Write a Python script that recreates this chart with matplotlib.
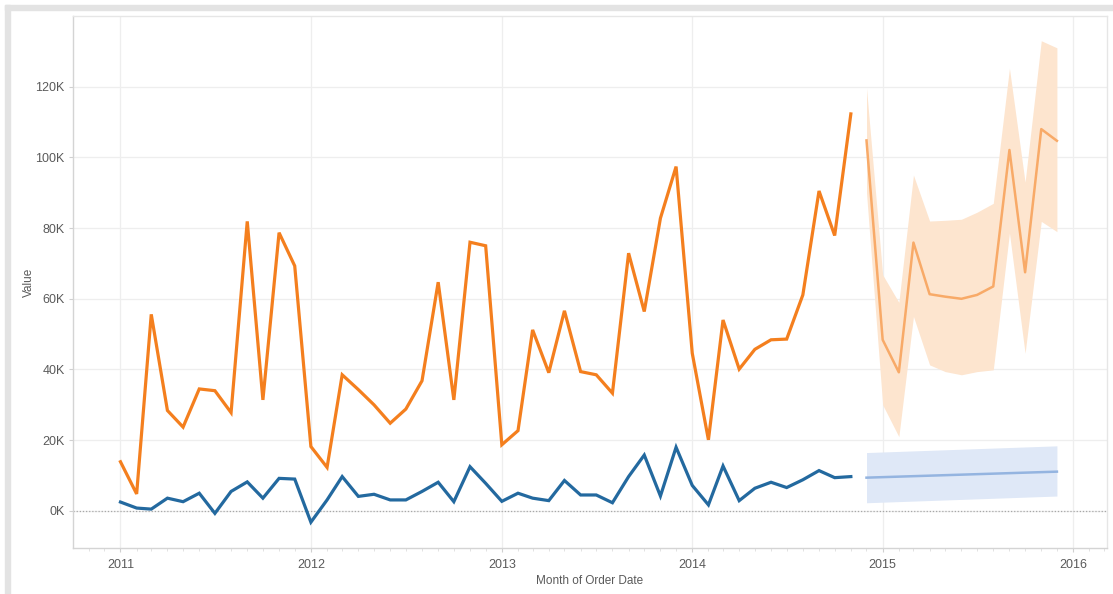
import matplotlib
matplotlib.use("Agg")
import matplotlib.pyplot as plt
import matplotlib.dates as mdates
from matplotlib.patches import Rectangle
from matplotlib.ticker import FuncFormatter
import pandas as pd

plt.rcParams['font.family'] = ['Liberation Sans', 'DejaVu Sans']

# ---- data (values in thousands) ----
actual_months = pd.date_range("2011-01-01", "2014-11-01", freq="MS")
sales = [13.9, 4.8, 55.6, 28.4, 23.7, 34.5, 34.0, 27.8, 81.9, 31.4, 78.7, 69.3,
         18.2, 12.3, 38.5, 34.3, 30.0, 24.8, 28.8, 36.8, 64.7, 31.4, 76.0, 75.0,
         18.7, 22.7, 51.2, 39.1, 56.6, 39.4, 38.5, 33.3, 72.9, 56.4, 82.8, 97.4,
         44.6, 20.1, 54.0, 40.1, 45.7, 48.4, 48.6, 61.1, 90.5, 77.9, 112.3]
profit = [2.5, 0.8, 0.5, 3.6, 2.6, 5.0, -0.7, 5.5, 8.2, 3.6, 9.2, 9.0,
          -3.2, 3.1, 9.7, 4.1, 4.7, 3.1, 3.1, 5.5, 8.1, 2.6, 12.5, 7.8,
          2.7, 5.0, 3.6, 2.9, 8.6, 4.5, 4.5, 2.3, 9.7, 15.8, 4.2, 18.0,
          7.2, 1.7, 12.7, 2.9, 6.4, 8.1, 6.6, 8.8, 11.4, 9.4, 9.7]

forecast_months = pd.date_range("2014-12-01", "2015-12-01", freq="MS")
sales_fc = [104.8, 48.4, 39.2, 75.9, 61.3, 60.6, 60.0, 61.1, 63.5, 102.1, 67.5, 108.0, 104.7]
sales_fc_hi = [119.6, 66.8, 59.0, 95.0, 82.0, 82.2, 82.5, 84.5, 87.0, 125.2, 93.0, 133.0, 131.0]
sales_fc_lo = [90.0, 30.0, 21.0, 55.0, 41.3, 39.4, 38.5, 39.4, 39.9, 78.6, 44.6, 81.9, 79.0]

profit_fc_months = pd.to_datetime(["2014-12-01", "2015-12-01"])
profit_fc = [9.4, 11.1]
profit_fc_hi = [16.5, 18.4]
profit_fc_lo = [2.3, 4.2]

year_ticks = pd.to_datetime(["2011-01-01", "2012-01-01", "2013-01-01",
                             "2014-01-01", "2015-01-01", "2016-01-01"])
y_ticks = [0, 20, 40, 60, 80, 100, 120]

# ---- figure ----
fig = plt.figure(figsize=(11.13, 5.94), dpi=100)
W, H = 1113, 594
# outer frame strips (screenshot border)
fig.patches.append(Rectangle((5 / W, 0), 5 / W, 1 - 5 / H, transform=fig.transFigure,
                             color='#e3e3e3', zorder=0))
fig.patches.append(Rectangle((5 / W, 1 - 10 / H), 1 - 5 / W, 5 / H, transform=fig.transFigure,
                             color='#e3e3e3', zorder=0))

ax = fig.add_axes([73 / W, 1 - 548 / H, (1107 - 73) / W, (548 - 16) / H])

orange = '#f47f1e'
blue = '#23699f'

ax.fill_between(forecast_months, sales_fc_lo, sales_fc_hi, color='#fde5cf', lw=0, zorder=1)
ax.fill_between(profit_fc_months, profit_fc_lo, profit_fc_hi, color='#dfe8f7', lw=0, zorder=1)
ax.plot(forecast_months, sales_fc, color='#f8aa68', lw=1.8, zorder=3)
ax.plot(profit_fc_months, profit_fc, color='#94b4e0', lw=1.8, zorder=3)
ax.plot(actual_months, sales, color=orange, lw=2.3, zorder=4, solid_joinstyle='miter')
ax.plot(actual_months, profit, color=blue, lw=2.3, zorder=4, solid_joinstyle='miter')

ax.axhline(0, color='#a8a8a8', lw=0.9, ls=(0, (1, 1.5)), zorder=2)

ax.set_xlim(pd.Timestamp("2010-10-02"), pd.Timestamp("2016-03-06"))
ax.set_ylim(-10.5, 140)

ax.set_xticks(year_ticks)
ax.xaxis.set_major_formatter(mdates.DateFormatter('%Y'))
ax.xaxis.set_minor_locator(mdates.MonthLocator())
ax.set_yticks(y_ticks)
ax.yaxis.set_major_formatter(FuncFormatter(lambda v, p: f"{int(v)}K"))

ax.grid(True, which='major', color='#eeeeee', lw=0.9, zorder=0)
ax.set_axisbelow(True)

for s in ['top', 'right']:
    ax.spines[s].set_color('#e6e6e6')
for s in ['left', 'bottom']:
    ax.spines[s].set_color('#d4d4d4')
for s in ax.spines.values():
    s.set_linewidth(1.0)

ax.tick_params(axis='both', which='major', colors='#d0d0d0', labelcolor='#5a5a5a',
               labelsize=9, length=3, width=0.8)
ax.tick_params(axis='x', which='minor', colors='#dddddd', length=2, width=0.6)
ax.tick_params(axis='x', which='major', pad=5)
ax.tick_params(axis='y', which='major', pad=3)

ax.set_xlabel('Month of Order Date', fontsize=8.5, color='#5a5a5a', labelpad=3)
ax.set_ylabel('Value', fontsize=8.5, color='#5a5a5a', labelpad=0)

fig.savefig('out.png', dpi=100)
